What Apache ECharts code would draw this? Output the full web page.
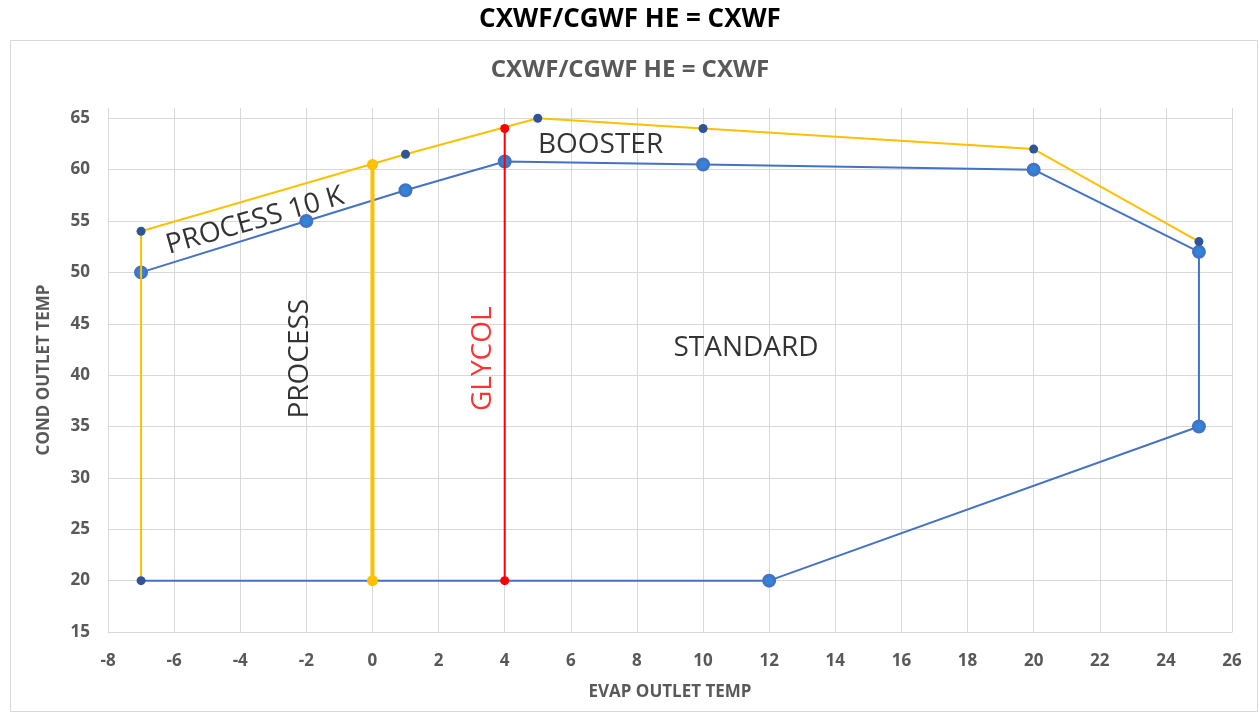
<!DOCTYPE html>
<html lang="en">
<head>
    <meta charset="UTF-8">
    <title>CXWF/CGWF HE = CXWF</title>
    <script src="https://cdn.jsdelivr.net/npm/echarts@6/dist/echarts.min.js" type="text/javascript"></script>
    <style>
        html, body { margin: 0; padding: 0; background: #fff; }
    </style>
</head>
<body>
<div id="main" style="width: 1260px; height: 717px;"></div>
<script>
    // envelope data
    var standardX = [-7, -2, 1, 4, 10, 20, 25, 25, 12, -7];
    var standardY = [50, 55, 58, 60.8, 60.5, 60, 52, 35, 20, 20];

    var boosterX = [-7, -7, 1, 5, 10, 20, 25];
    var boosterY = [20, 54, 61.5, 65, 64, 62, 53];

    var processX = [0, 0];
    var processY = [20, 60.5];

    var glycolX = [4, 4];
    var glycolY = [20, 64];

    // region labels: text, x, y, rotate, colour
    var labelText = ['PROCESS 10 K', 'BOOSTER', 'PROCESS', 'GLYCOL', 'STANDARD'];
    var labelX = [-3.55, 6.9, -2.2, 3.35, 11.3];
    var labelY = [55.0, 62.4, 41.6, 41.6, 42.6];
    var labelRot = [16, 0, 90, 90, 0];
    var labelColor = ['#000', '#000', '#000', '#ff0000', '#000'];

    function pairs(xs, ys) {
        return xs.map(function (x, i) { return [x, ys[i]]; });
    }

    var grey = '#595959';
    var font = '"Open Sans", "Noto Sans", sans-serif';

    var myChart = echarts.init(document.getElementById('main'));

    var standardData = pairs(standardX, standardY).map(function (p, i) {
        return i === standardX.length - 1 ? {value: p, symbol: 'none'} : p;
    });

    var labelData = labelText.map(function (t, i) {
        return {
            name: t,
            value: [labelX[i], labelY[i]],
            label: {rotate: labelRot[i], color: labelColor[i]}
        };
    });

    var option = {
        animation: false,
        backgroundColor: '#fff',
        title: [
            {
                text: 'CXWF/CGWF HE = CXWF',
                left: 'center',
                top: 2,
                textStyle: {fontSize: 26, fontWeight: 'bold', color: '#000', fontFamily: font}
            },
            {
                text: 'CXWF/CGWF HE = CXWF',
                left: 'center',
                top: 53,
                textStyle: {fontSize: 24, fontWeight: 'bold', color: grey, fontFamily: font}
            }
        ],
        graphic: [{
            type: 'rect',
            shape: {x: 10.5, y: 40.5, width: 1247, height: 671},
            style: {fill: 'none', stroke: '#d9d9d9', lineWidth: 1},
            z: -1
        }],
        grid: {left: 108, right: 28, top: 108, bottom: 85},
        xAxis: {
            type: 'value',
            min: -8,
            max: 26,
            interval: 2,
            name: 'EVAP OUTLET TEMP',
            nameLocation: 'middle',
            nameGap: 52,
            nameTextStyle: {color: grey, fontSize: 17, fontWeight: 'bold', fontFamily: font},
            axisLine: {show: true, lineStyle: {color: '#d9d9d9', width: 1}},
            axisTick: {show: false},
            axisLabel: {color: grey, fontSize: 17, fontWeight: 'bold', fontFamily: font, margin: 21},
            splitLine: {lineStyle: {color: '#d9d9d9', width: 1}}
        },
        yAxis: {
            type: 'value',
            min: 15,
            max: 66,
            interval: 5,
            name: 'COND OUTLET TEMP',
            nameLocation: 'middle',
            nameGap: 55,
            nameTextStyle: {color: grey, fontSize: 17, fontWeight: 'bold', fontFamily: font},
            axisLine: {show: true, lineStyle: {color: '#d9d9d9', width: 1}},
            axisTick: {show: false},
            axisLabel: {color: grey, fontSize: 17, fontWeight: 'bold', fontFamily: font, margin: 18, showMaxLabel: false},
            splitLine: {showMaxLine: false, lineStyle: {color: '#d9d9d9', width: 1}}
        },
        series: [
            {
                name: 'STANDARD',
                type: 'line',
                data: standardData,
                symbol: 'circle',
                symbolSize: 11,
                itemStyle: {color: '#2f86d8', borderColor: '#4472c4', borderWidth: 3},
                lineStyle: {color: '#4472c4', width: 2},
                z: 2
            },
            {
                name: 'BOOSTER',
                type: 'line',
                data: pairs(boosterX, boosterY),
                symbol: 'circle',
                symbolSize: 9,
                itemStyle: {color: '#2f5597'},
                lineStyle: {color: '#ffc000', width: 2},
                z: 3
            },
            {
                name: 'PROCESS',
                type: 'line',
                data: pairs(processX, processY),
                symbol: 'circle',
                symbolSize: 11,
                itemStyle: {color: '#ffc000'},
                lineStyle: {color: '#ffc000', width: 4},
                z: 4
            },
            {
                name: 'GLYCOL',
                type: 'line',
                data: pairs(glycolX, glycolY),
                symbol: 'circle',
                symbolSize: 9,
                itemStyle: {color: '#ff0000'},
                lineStyle: {color: '#ff0000', width: 2},
                z: 5
            },
            {
                name: 'labels',
                type: 'scatter',
                data: labelData,
                symbolSize: 0,
                silent: true,
                label: {
                    show: true,
                    position: 'inside',
                    formatter: '{b}',
                    fontSize: 28,
                    fontFamily: font
                },
                z: 6
            }
        ]
    };
    myChart.setOption(option);
</script>
</body>
</html>
